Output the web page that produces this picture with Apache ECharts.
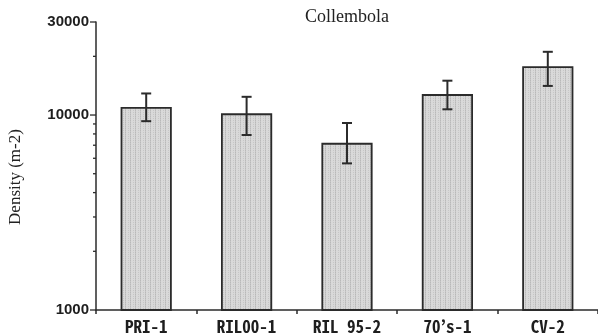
<!DOCTYPE html>
<html>
<head>
<meta charset="utf-8">
<script src="https://cdn.jsdelivr.net/npm/echarts@6/dist/echarts.min.js"></script>
<style>
  html, body { margin: 0; padding: 0; background: #fff; }
  #chart { width: 598px; height: 336px; }
</style>
</head>
<body>
<div id="chart"></div>
<script>
// Collembola density per site (individuals per m²), log scale
const sites = ['PRI-1', 'RIL00-1', 'RIL 95-2', '70’s-1', 'CV-2'];
const density = [11000, 10200, 7200, 12800, 17800];
const errLow = [9300, 7900, 5650, 10700, 14100];
const errHigh = [12900, 12400, 9100, 15000, 21100];
const majorTicks = [1000, 10000, 30000];
const minorTicks = [2000, 3000, 4000, 5000, 6000, 7000, 8000, 9000, 20000];

// Stippled grey fill with faint vertical streaks
function stipple() {
  const c = document.createElement('canvas');
  c.width = 5; c.height = 2;
  const g = c.getContext('2d');
  g.fillStyle = '#d9d9d9';
  g.fillRect(0, 0, 5, 2);
  g.fillStyle = '#b9b9b9';
  g.fillRect(0, 0, 1, 1);
  g.fillStyle = '#c6c6c6';
  g.fillRect(0, 1, 1, 1);
  g.fillRect(3, 0, 1, 1);
  return c;
}

const ink = '#2b2b2b';
const chart = echarts.init(document.getElementById('chart'));

// Short outward tick marks on the log axis
function tickRenderer(len) {
  return function (params, api) {
    const y = api.coord([0, api.value(1)])[1];
    const x0 = params.coordSys.x;
    return {
      type: 'line',
      shape: { x1: x0 - len, y1: y, x2: x0, y2: y },
      style: { stroke: ink, lineWidth: 1.3 }
    };
  };
}

chart.setOption({
  animation: false,
  grid: { left: 96, right: 0, top: 22, bottom: 26 },
  xAxis: {
    type: 'category',
    data: sites,
    boundaryGap: true,
    axisLine: { lineStyle: { color: ink, width: 1.5 } },
    axisTick: { show: true, length: 4, lineStyle: { color: ink, width: 1.5 } },
    axisLabel: {
      margin: 8,
      color: '#1e1e1e',
      fontSize: 17,
      fontWeight: 'bold',
      fontFamily: '"Noto Sans Mono CJK JP", "DejaVu Sans Mono", monospace'
    }
  },
  yAxis: {
    type: 'log',
    logBase: 10,
    min: 1000,
    max: 30000,
    splitLine: { show: false },
    axisLine: { show: true, lineStyle: { color: ink, width: 1.5 } },
    axisTick: { show: false },
    axisLabel: {
      customValues: majorTicks,
      formatter: v => String(Math.round(v)),
      margin: 7,
      color: '#1e1e1e',
      fontSize: 15,
      fontWeight: 'bold',
      fontFamily: '"Liberation Sans", Arial, sans-serif'
    }
  },
  graphic: [
    {
      type: 'text',
      x: 347, y: 17,
      style: {
        text: 'Collembola',
        fill: '#222',
        font: '18px "Liberation Serif", "Times New Roman", serif',
        textAlign: 'center',
        textVerticalAlign: 'middle'
      }
    },
    {
      type: 'text',
      x: 16, y: 177,
      rotation: Math.PI / 2,
      style: {
        text: 'Density (m-2)',
        fill: '#222',
        font: '17px "Liberation Serif", "Times New Roman", serif',
        textAlign: 'center',
        textVerticalAlign: 'middle'
      }
    }
  ],
  series: [
    {
      type: 'bar',
      data: density,
      barWidth: '51%',
      itemStyle: {
        color: { image: stipple(), repeat: 'repeat' },
        borderColor: ink,
        borderWidth: 1.8
      }
    },
    {
      type: 'custom',
      z: 5,
      data: sites.map((s, i) => [i, errLow[i], errHigh[i]]),
      encode: { x: 0, y: [1, 2] },
      renderItem: function (params, api) {
        const i = api.value(0);
        const lo = api.coord([i, api.value(1)]);
        const hi = api.coord([i, api.value(2)]);
        const cap = 5;
        const st = { stroke: ink, lineWidth: 2 };
        return {
          type: 'group',
          children: [
            { type: 'line', shape: { x1: lo[0], y1: lo[1], x2: hi[0], y2: hi[1] }, style: st },
            { type: 'line', shape: { x1: hi[0] - cap, y1: hi[1], x2: hi[0] + cap, y2: hi[1] }, style: st },
            { type: 'line', shape: { x1: lo[0] - cap, y1: lo[1], x2: lo[0] + cap, y2: lo[1] }, style: st }
          ]
        };
      }
    },
    {
      type: 'custom',
      clip: false,
      silent: true,
      data: majorTicks.map(v => [0, v]),
      encode: { x: 0, y: 1 },
      renderItem: tickRenderer(6)
    },
    {
      type: 'custom',
      clip: false,
      silent: true,
      data: minorTicks.map(v => [0, v]),
      encode: { x: 0, y: 1 },
      renderItem: tickRenderer(3)
    }
  ]
});
</script>
</body>
</html>
